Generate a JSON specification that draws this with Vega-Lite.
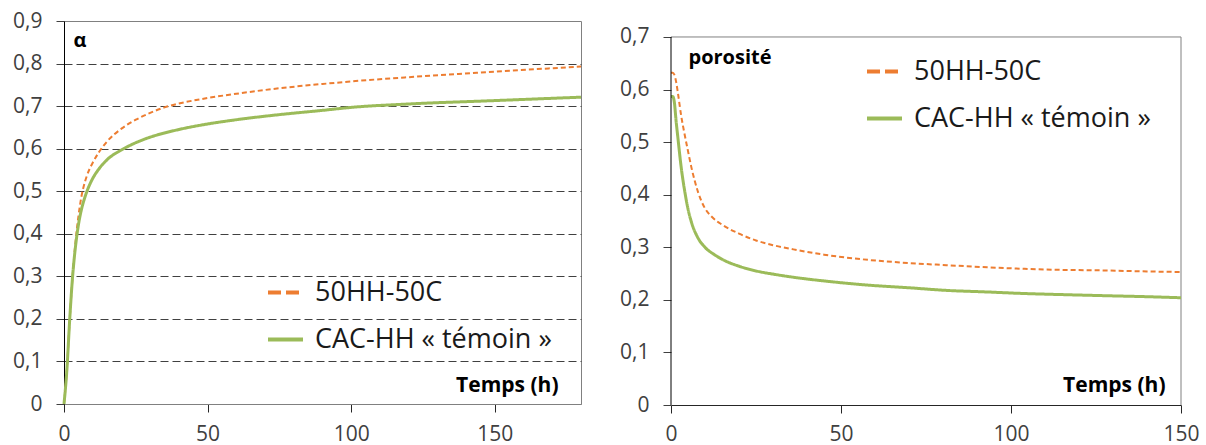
{
  "$schema": "https://vega.github.io/schema/vega-lite/v6.json",
  "background": "white",
  "padding": {"left": 12, "top": 9, "right": 0, "bottom": 0},
  "bounds": "flush",
  "spacing": 90,
  "config": {
    "font": "Open Sans",
    "view": {"stroke": "#808080", "strokeWidth": 1},
    "axis": {
      "labelFont": "Open Sans", "labelFontSize": 21, "labelColor": "#404040",
      "tickColor": "#404040", "tickSize": 8,
      "gridColor": "#404040", "gridDash": [8, 4], "gridWidth": 1,
      "titleFont": "Open Sans", "titleFontWeight": "bold", "titleColor": "#000000"
    },
    "legend": {
      "labelFont": "Open Sans", "labelFontSize": 27, "labelColor": "#1a1a1a",
      "symbolType": "stroke", "symbolSize": 1225, "symbolStrokeWidth": 4,
      "rowPadding": 14, "labelOffset": 10, "padding": 0, "labelLimit": 400
    }
  },
  "resolve": {
    "scale": {"color": "independent"},
    "legend": {"color": "independent"}
  },
  "hconcat": [
    {
      "width": 517,
      "height": 383,
      "data": {"values": [
        {"s": "50HH-50C", "t": 0, "v": 0}, {"s": "50HH-50C", "t": 1, "v": 0.08}, {"s": "50HH-50C", "t": 2, "v": 0.2},
        {"s": "50HH-50C", "t": 3, "v": 0.3}, {"s": "50HH-50C", "t": 4, "v": 0.38}, {"s": "50HH-50C", "t": 5, "v": 0.44},
        {"s": "50HH-50C", "t": 6, "v": 0.485}, {"s": "50HH-50C", "t": 7, "v": 0.515}, {"s": "50HH-50C", "t": 8, "v": 0.537},
        {"s": "50HH-50C", "t": 10, "v": 0.567}, {"s": "50HH-50C", "t": 12, "v": 0.59}, {"s": "50HH-50C", "t": 15, "v": 0.617},
        {"s": "50HH-50C", "t": 20, "v": 0.647}, {"s": "50HH-50C", "t": 25, "v": 0.668}, {"s": "50HH-50C", "t": 30, "v": 0.684},
        {"s": "50HH-50C", "t": 35, "v": 0.697}, {"s": "50HH-50C", "t": 40, "v": 0.706}, {"s": "50HH-50C", "t": 50, "v": 0.719},
        {"s": "50HH-50C", "t": 60, "v": 0.729}, {"s": "50HH-50C", "t": 75, "v": 0.742}, {"s": "50HH-50C", "t": 90, "v": 0.752},
        {"s": "50HH-50C", "t": 100, "v": 0.758}, {"s": "50HH-50C", "t": 120, "v": 0.768}, {"s": "50HH-50C", "t": 150, "v": 0.781},
        {"s": "50HH-50C", "t": 180, "v": 0.793},
        {"s": "CAC-HH « témoin »", "t": 0, "v": 0}, {"s": "CAC-HH « témoin »", "t": 1, "v": 0.08}, {"s": "CAC-HH « témoin »", "t": 2, "v": 0.2},
        {"s": "CAC-HH « témoin »", "t": 3, "v": 0.3}, {"s": "CAC-HH « témoin »", "t": 4, "v": 0.37}, {"s": "CAC-HH « témoin »", "t": 5, "v": 0.42},
        {"s": "CAC-HH « témoin »", "t": 6, "v": 0.455}, {"s": "CAC-HH « témoin »", "t": 7, "v": 0.48}, {"s": "CAC-HH « témoin »", "t": 8, "v": 0.5},
        {"s": "CAC-HH « témoin »", "t": 10, "v": 0.53}, {"s": "CAC-HH « témoin »", "t": 12, "v": 0.551}, {"s": "CAC-HH « témoin »", "t": 15, "v": 0.574},
        {"s": "CAC-HH « témoin »", "t": 20, "v": 0.597}, {"s": "CAC-HH « témoin »", "t": 25, "v": 0.614}, {"s": "CAC-HH « témoin »", "t": 30, "v": 0.627},
        {"s": "CAC-HH « témoin »", "t": 40, "v": 0.645}, {"s": "CAC-HH « témoin »", "t": 50, "v": 0.658}, {"s": "CAC-HH « témoin »", "t": 60, "v": 0.668},
        {"s": "CAC-HH « témoin »", "t": 75, "v": 0.68}, {"s": "CAC-HH « témoin »", "t": 90, "v": 0.69}, {"s": "CAC-HH « témoin »", "t": 100, "v": 0.697},
        {"s": "CAC-HH « témoin »", "t": 120, "v": 0.705}, {"s": "CAC-HH « témoin »", "t": 150, "v": 0.713}, {"s": "CAC-HH « témoin »", "t": 180, "v": 0.721}
      ]},
      "mark": {"type": "line", "interpolate": "monotone"},
      "encoding": {
        "x": {
          "field": "t", "type": "quantitative",
          "scale": {"domain": [0, 180], "nice": false, "zero": true},
          "axis": {
            "values": [0, 50, 100, 150], "grid": false, "domainColor": "#808080", "tickColor": "#262626",
            "labelPadding": 11, "labelFlush": false, "labelOverlap": false,
            "title": "Temps (h)", "titleFontSize": 21, "titleAnchor": null, "titleAlign": "right",
            "titleBaseline": "middle", "titleX": 494, "titleY": -19
          }
        },
        "y": {
          "field": "v", "type": "quantitative",
          "scale": {"domain": [0, 0.9], "nice": false},
          "axis": {
            "values": [0, 0.1, 0.2, 0.3, 0.4, 0.5, 0.6, 0.7, 0.8, 0.9],
            "domainColor": "#000000", "labelPadding": 14, "labelFlush": false, "labelOverlap": false,
            "labelExpr": "datum.value == 0 ? '0' : replace(format(datum.value, '.1f'), '.', ',')",
            "gridOpacity": {"condition": {"test": "datum.value < 0.05 || datum.value > 0.85", "value": 0}, "value": 1},
            "title": "α", "titleFontSize": 20, "titleAngle": 0, "titleAnchor": null, "titleAlign": "left",
            "titleBaseline": "middle", "titleX": 9, "titleY": 19
          }
        },
        "color": {
          "field": "s", "type": "nominal",
          "scale": {"domain": ["50HH-50C", "CAC-HH « témoin »"], "range": ["#ED7D31", "#9BBB59"]},
          "legend": {"title": null, "orient": "none", "legendX": 202, "legendY": 252,
            "encode": {"symbols": {"update": {
              "strokeDash": {"signal": "datum.value === '50HH-50C' ? [13, 5] : [1, 0]"},
              "stroke": {"signal": "datum.value === '50HH-50C' ? '#F79646' : '#9BBB59'"}
            }}}}
        },
        "strokeDash": {
          "condition": {"test": "datum.s === '50HH-50C'", "value": [5, 3]},
          "value": [1, 0]
        },
        "strokeWidth": {
          "condition": {"test": "datum.s === '50HH-50C'", "value": 2},
          "value": 3
        }
      }
    },
    {
      "width": 510,
      "height": 384,
      "view": {"stroke": null},
      "layer": [
        {
          "data": {"values": [{}]},
          "mark": {"type": "rule", "color": "#808080", "strokeWidth": 1},
          "encoding": {
            "x": {"datum": 0, "type": "quantitative", "scale": {"domain": [0, 150], "nice": false}},
            "x2": {"datum": 150},
            "y": {"datum": 0.7, "type": "quantitative", "scale": {"domain": [0, 0.7304], "nice": false}}
          }
        },
        {
          "data": {"values": [{}]},
          "mark": {"type": "rule", "color": "#808080", "strokeWidth": 1},
          "encoding": {
            "x": {"datum": 150, "type": "quantitative", "scale": {"domain": [0, 150], "nice": false}},
            "y": {"datum": 0, "type": "quantitative", "scale": {"domain": [0, 0.7304], "nice": false}},
            "y2": {"datum": 0.7}
          }
        },
        {
          "data": {"values": [
            {"s": "50HH-50C", "t": 0, "v": 0.632}, {"s": "50HH-50C", "t": 0.5, "v": 0.632}, {"s": "50HH-50C", "t": 1, "v": 0.628},
            {"s": "50HH-50C", "t": 1.5, "v": 0.615}, {"s": "50HH-50C", "t": 2, "v": 0.595}, {"s": "50HH-50C", "t": 3, "v": 0.55},
            {"s": "50HH-50C", "t": 4, "v": 0.515}, {"s": "50HH-50C", "t": 5, "v": 0.483}, {"s": "50HH-50C", "t": 6, "v": 0.452},
            {"s": "50HH-50C", "t": 7, "v": 0.426}, {"s": "50HH-50C", "t": 8, "v": 0.404}, {"s": "50HH-50C", "t": 9, "v": 0.387},
            {"s": "50HH-50C", "t": 10, "v": 0.374}, {"s": "50HH-50C", "t": 12, "v": 0.358}, {"s": "50HH-50C", "t": 15, "v": 0.343},
            {"s": "50HH-50C", "t": 20, "v": 0.326}, {"s": "50HH-50C", "t": 25, "v": 0.313}, {"s": "50HH-50C", "t": 30, "v": 0.304},
            {"s": "50HH-50C", "t": 36, "v": 0.296}, {"s": "50HH-50C", "t": 45, "v": 0.286}, {"s": "50HH-50C", "t": 58, "v": 0.276},
            {"s": "50HH-50C", "t": 70, "v": 0.27}, {"s": "50HH-50C", "t": 81, "v": 0.266}, {"s": "50HH-50C", "t": 93, "v": 0.262},
            {"s": "50HH-50C", "t": 104, "v": 0.259}, {"s": "50HH-50C", "t": 115, "v": 0.257}, {"s": "50HH-50C", "t": 127, "v": 0.256},
            {"s": "50HH-50C", "t": 140, "v": 0.254}, {"s": "50HH-50C", "t": 150, "v": 0.253},
            {"s": "CAC-HH « témoin »", "t": 0, "v": 0.587}, {"s": "CAC-HH « témoin »", "t": 0.5, "v": 0.587}, {"s": "CAC-HH « témoin »", "t": 1, "v": 0.575},
            {"s": "CAC-HH « témoin »", "t": 1.5, "v": 0.54}, {"s": "CAC-HH « témoin »", "t": 2, "v": 0.51}, {"s": "CAC-HH « témoin »", "t": 3, "v": 0.452},
            {"s": "CAC-HH « témoin »", "t": 4, "v": 0.408}, {"s": "CAC-HH « témoin »", "t": 5, "v": 0.373}, {"s": "CAC-HH « témoin »", "t": 6, "v": 0.348},
            {"s": "CAC-HH « témoin »", "t": 8, "v": 0.317}, {"s": "CAC-HH « témoin »", "t": 10, "v": 0.3}, {"s": "CAC-HH « témoin »", "t": 13, "v": 0.285},
            {"s": "CAC-HH « témoin »", "t": 16, "v": 0.274}, {"s": "CAC-HH « témoin »", "t": 20, "v": 0.264}, {"s": "CAC-HH « témoin »", "t": 25, "v": 0.255},
            {"s": "CAC-HH « témoin »", "t": 30, "v": 0.249}, {"s": "CAC-HH « témoin »", "t": 36, "v": 0.243}, {"s": "CAC-HH « témoin »", "t": 45, "v": 0.236},
            {"s": "CAC-HH « témoin »", "t": 58, "v": 0.228}, {"s": "CAC-HH « témoin »", "t": 70, "v": 0.223}, {"s": "CAC-HH « témoin »", "t": 81, "v": 0.218},
            {"s": "CAC-HH « témoin »", "t": 93, "v": 0.215}, {"s": "CAC-HH « témoin »", "t": 104, "v": 0.212}, {"s": "CAC-HH « témoin »", "t": 115, "v": 0.21},
            {"s": "CAC-HH « témoin »", "t": 127, "v": 0.208}, {"s": "CAC-HH « témoin »", "t": 140, "v": 0.206}, {"s": "CAC-HH « témoin »", "t": 150, "v": 0.204}
          ]},
          "mark": {"type": "line", "interpolate": "monotone"},
          "encoding": {
            "x": {
              "field": "t", "type": "quantitative",
              "scale": {"domain": [0, 150], "nice": false},
              "axis": {
                "values": [0, 50, 100, 150], "grid": false, "domainColor": "#262626", "tickColor": "#262626",
                "labelPadding": 10, "labelFlush": false, "labelOverlap": false,
                "title": "Temps (h)", "titleFontSize": 21, "titleAnchor": null, "titleAlign": "right",
                "titleBaseline": "middle", "titleX": 494, "titleY": -20
              }
            },
            "y": {
              "field": "v", "type": "quantitative",
              "scale": {"domain": [0, 0.7304], "nice": false},
              "axis": {
                "values": [0, 0.1, 0.2, 0.3, 0.4, 0.5, 0.6, 0.7],
                "domain": false, "labelPadding": 14, "labelFlush": false, "labelOverlap": false,
                "labelExpr": "datum.value == 0 ? '0' : replace(format(datum.value, '.1f'), '.', ',')",
                "gridOpacity": {"condition": {"test": "datum.value < 0.05 || datum.value > 0.65", "value": 0}, "value": 1},
                "title": "porosité", "titleFontSize": 20, "titleAngle": 0, "titleAnchor": null, "titleAlign": "left",
                "titleBaseline": "middle", "titleX": 17, "titleY": 36
              }
            },
            "color": {
              "field": "s", "type": "nominal",
              "scale": {"domain": ["50HH-50C", "CAC-HH « témoin »"], "range": ["#ED7D31", "#9BBB59"]},
              "legend": {"title": null, "orient": "none", "legendX": 194, "legendY": 31,
                "encode": {"symbols": {"update": {
                  "strokeDash": {"signal": "datum.value === '50HH-50C' ? [13, 5] : [1, 0]"},
                  "stroke": {"signal": "datum.value === '50HH-50C' ? '#F79646' : '#9BBB59'"}
                }}}}
            },
            "strokeDash": {
              "condition": {"test": "datum.s === '50HH-50C'", "value": [5, 3]},
              "value": [1, 0]
            },
            "strokeWidth": {
              "condition": {"test": "datum.s === '50HH-50C'", "value": 2},
              "value": 3
            }
          }
        },
        {
          "data": {"values": [{}]},
          "mark": {"type": "rule", "color": "#000000", "strokeWidth": 1},
          "encoding": {
            "x": {"datum": 0, "type": "quantitative", "scale": {"domain": [0, 150], "nice": false}},
            "y": {"datum": 0, "type": "quantitative", "scale": {"domain": [0, 0.7304], "nice": false}},
            "y2": {"datum": 0.7}
          }
        }
      ]
    }
  ]
}
